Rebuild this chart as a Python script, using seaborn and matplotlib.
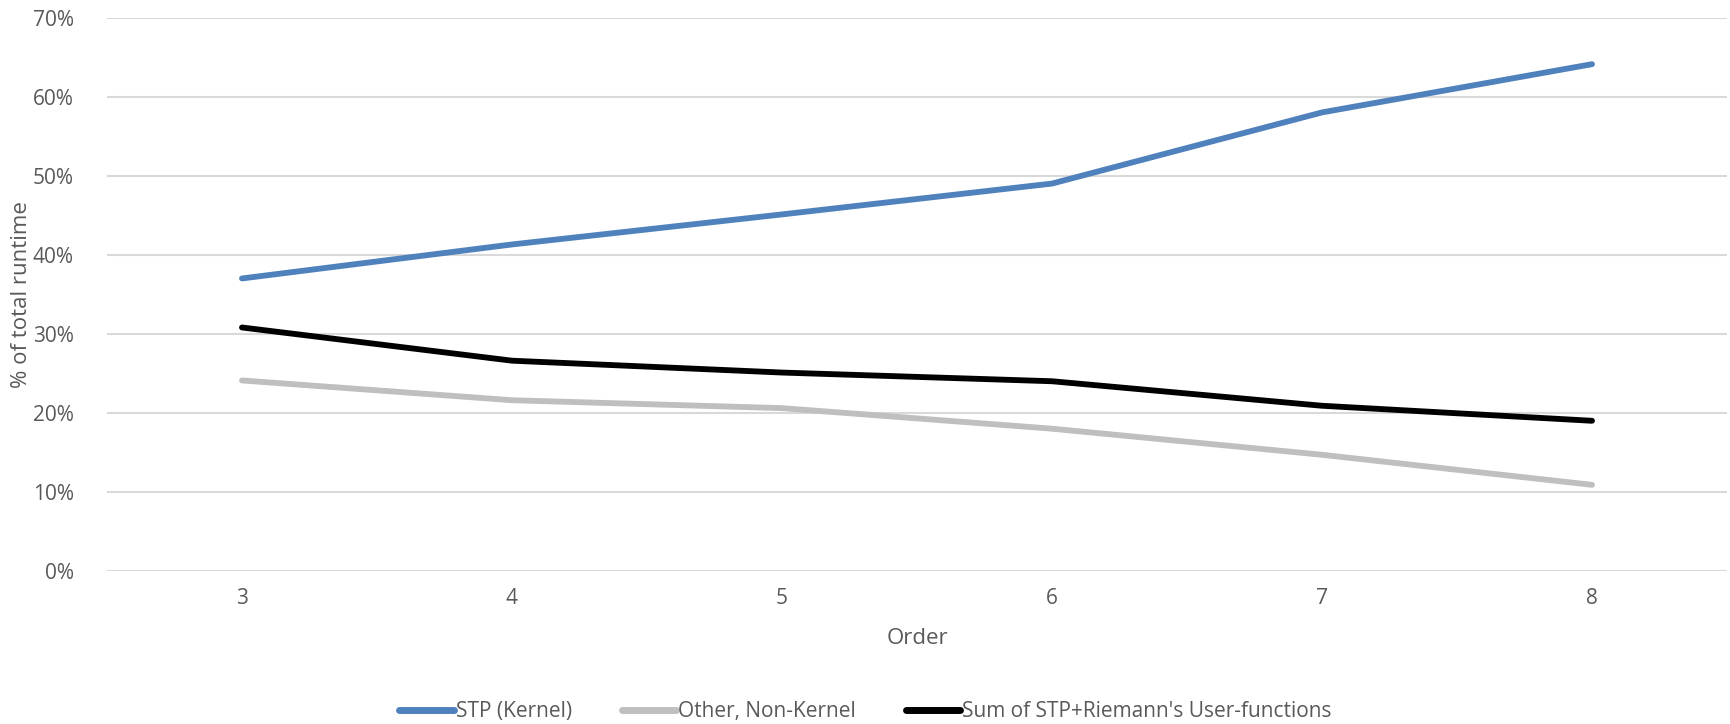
import pandas as pd
import seaborn as sns
import matplotlib
matplotlib.use("Agg")
import matplotlib.pyplot as plt
from matplotlib.ticker import PercentFormatter

orders = [3, 4, 5, 6, 7, 8]
stp_kernel = [37.0, 41.3, 45.1, 49.0, 58.0, 64.1]
other_non_kernel = [24.1, 21.6, 20.6, 18.0, 14.7, 10.9]
sum_stp_riemann = [30.8, 26.6, 25.1, 24.0, 20.9, 19.0]

series_names = ["STP (Kernel)", "Other, Non-Kernel", "Sum of STP+Riemann's User-functions"]
colors = ["#4F81BD", "#BFBFBF", "#000000"]

df = pd.concat([
    pd.DataFrame({"Order": orders, "pct": vals, "series": name})
    for name, vals in zip(series_names, [stp_kernel, other_non_kernel, sum_stp_riemann])
])

sns.set_theme(style="white")
plt.rcParams['font.family'] = ['Open Sans', 'DejaVu Sans']
text_col = "#595959"

fig = plt.figure(figsize=(17.31, 7.24), dpi=100)
ax = fig.add_axes([0.0618, 0.2113, 0.9359, 0.7645])

sns.lineplot(data=df, x="Order", y="pct", hue="series", hue_order=series_names,
             palette=colors, linewidth=4.2, ax=ax, legend=True)
for ln in ax.get_lines():
    ln.set_solid_capstyle("round")

ax.set_xlim(2.5, 8.5)
ax.set_ylim(0, 70)
ax.set_xticks(orders)
ax.set_yticks(range(0, 71, 10))
ax.yaxis.set_major_formatter(PercentFormatter(decimals=0))
ax.grid(axis="y", color="#D9D9D9", linewidth=1.5)
ax.set_axisbelow(True)
for s in ax.spines.values():
    s.set_visible(False)
ax.tick_params(axis="both", length=0, labelsize=15, colors=text_col, pad=12)
ax.tick_params(axis="y", pad=24)
ax.set_xlabel("Order", fontsize=16, color=text_col, labelpad=14)
ax.set_ylabel("% of total runtime", fontsize=16, color=text_col)
ax.yaxis.set_label_coords(-0.046, 0.5)

handles, labels = ax.get_legend_handles_labels()
ax.get_legend().remove()
leg = fig.legend(handles, labels, loc="center", bbox_to_anchor=(0.5, 0.0166),
                 ncol=3, frameon=False, fontsize=15, handlelength=2.6,
                 handletextpad=0.1, columnspacing=2.4, labelcolor=text_col)
for h in leg.get_lines():
    h.set_linewidth(5)

fig.savefig("out.png", dpi=100)
